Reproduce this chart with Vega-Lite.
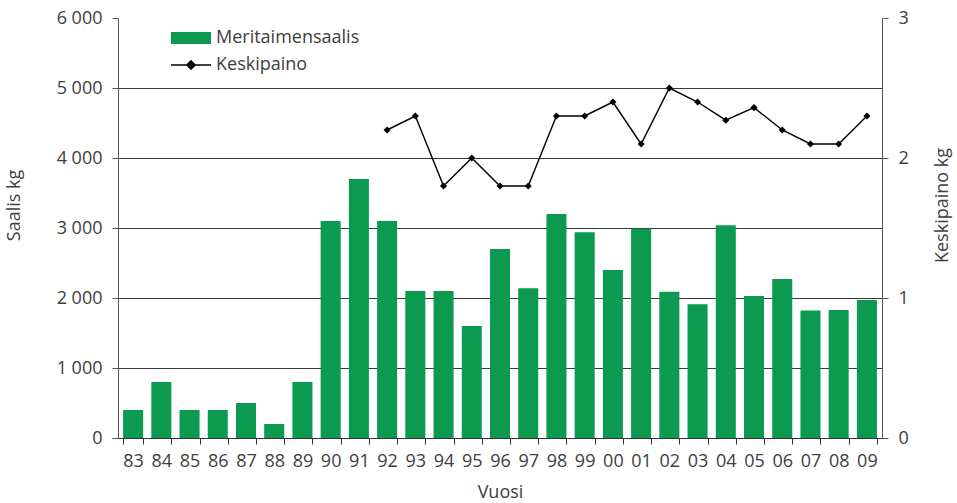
{
  "$schema": "https://vega.github.io/schema/vega-lite/v6.json",
  "width": 764,
  "height": 420,
  "autosize": {"type": "none"},
  "padding": {"left": 118, "top": 18, "right": 75, "bottom": 65},
  "background": "white",
  "config": {
    "font": "Open Sans",
    "view": {"stroke": null},
    "axis": {"labelFont": "Open Sans", "titleFont": "Open Sans", "labelFontSize": 18, "titleFontSize": 18, "labelColor": "#404040", "titleColor": "#404040", "titleFontWeight": "normal"},
    "legend": {"labelFont": "Open Sans", "labelFontSize": 18, "labelColor": "#404040"}
  },
  "data": {
    "values": [
      {"vuosi": "83", "saalis": 400},
      {"vuosi": "84", "saalis": 800},
      {"vuosi": "85", "saalis": 400},
      {"vuosi": "86", "saalis": 400},
      {"vuosi": "87", "saalis": 500},
      {"vuosi": "88", "saalis": 200},
      {"vuosi": "89", "saalis": 800},
      {"vuosi": "90", "saalis": 3100},
      {"vuosi": "91", "saalis": 3700},
      {"vuosi": "92", "saalis": 3100, "keskipaino": 2.2},
      {"vuosi": "93", "saalis": 2100, "keskipaino": 2.3},
      {"vuosi": "94", "saalis": 2100, "keskipaino": 1.8},
      {"vuosi": "95", "saalis": 1600, "keskipaino": 2.0},
      {"vuosi": "96", "saalis": 2700, "keskipaino": 1.8},
      {"vuosi": "97", "saalis": 2140, "keskipaino": 1.8},
      {"vuosi": "98", "saalis": 3200, "keskipaino": 2.3},
      {"vuosi": "99", "saalis": 2940, "keskipaino": 2.3},
      {"vuosi": "00", "saalis": 2400, "keskipaino": 2.4},
      {"vuosi": "01", "saalis": 2990, "keskipaino": 2.1},
      {"vuosi": "02", "saalis": 2090, "keskipaino": 2.5},
      {"vuosi": "03", "saalis": 1910, "keskipaino": 2.4},
      {"vuosi": "04", "saalis": 3040, "keskipaino": 2.27},
      {"vuosi": "05", "saalis": 2030, "keskipaino": 2.36},
      {"vuosi": "06", "saalis": 2270, "keskipaino": 2.2},
      {"vuosi": "07", "saalis": 1820, "keskipaino": 2.1},
      {"vuosi": "08", "saalis": 1830, "keskipaino": 2.1},
      {"vuosi": "09", "saalis": 1970, "keskipaino": 2.3}
    ]
  },
  "encoding": {
    "x": {
      "field": "vuosi",
      "type": "nominal",
      "sort": null,
      "scale": {"paddingInner": 0.29, "paddingOuter": 0.18},
      "axis": {
        "title": "Vuosi",
        "labelAngle": 0,
        "tickBand": "extent",
        "tickSize": 6,
        "tickColor": "#333",
        "domainColor": "#333",
        "domainWidth": 1.2,
        "labelPadding": 8,
        "titleX": 382,
        "titleY": 54,
        "titleBaseline": "middle",
        "grid": false
      }
    }
  },
  "layer": [
    {
      "mark": {"type": "bar", "color": "#0b9a4f"},
      "encoding": {
        "y": {
          "field": "saalis",
          "type": "quantitative",
          "scale": {"domain": [0, 6000], "nice": false},
          "axis": {
            "title": "Saalis  kg",
            "values": [0, 1000, 2000, 3000, 4000, 5000, 6000],
            "labelExpr": "replace(format(datum.value, ','), ',', ' ')",
            "grid": true,
            "gridColor": {"condition": {"test": "datum.value === 6000 || datum.value === 0", "value": "transparent"}, "value": "#3a3a3a"},
            "gridWidth": 1.2,
            "tickSize": 6,
            "tickColor": "#555",
            "domainColor": "#555",
            "labelPadding": 10,
            "titleX": -104,
            "titleY": 187,
            "titleAngle": 270,
            "titleAlign": "center",
            "titleBaseline": "middle"
          }
        },
        "color": {
          "datum": "Meritaimensaalis",
          "type": "nominal",
          "scale": {"domain": ["Meritaimensaalis", "Keskipaino"], "range": ["#0b9a4f", "#000000"]},
          "legend": {
            "title": null,
            "orient": "none",
            "legendX": 64,
            "legendY": 11,
            "padding": 0,
            "symbolSize": 400,
            "labelOffset": 16,
            "rowPadding": 9,
            "encode": {
              "symbols": {
                "update": {
                  "shape": {"signal": "datum.value === 'Keskipaino' ? 'M-2,0H2M0,-0.42L0.42,0L0,0.42L-0.42,0Z' : 'M-2,-0.6H2V0.6H-2Z'"},
                  "fill": {"signal": "datum.value === 'Keskipaino' ? '#000000' : '#0b9a4f'"},
                  "stroke": {"signal": "datum.value === 'Keskipaino' ? '#000000' : '#0b9a4f'"},
                  "strokeWidth": {"signal": "datum.value === 'Keskipaino' ? 1.4 : 0"},
                  "opacity": {"value": 1},
                  "fillOpacity": {"value": 1},
                  "strokeOpacity": {"value": 1}
                }
              }
            }
          }
        }
      }
    },
    {
      "mark": {"type": "line", "color": "#000000", "strokeWidth": 1.4, "point": {"shape": "diamond", "size": 50, "filled": true, "color": "#000000", "opacity": 1}},
      "encoding": {
        "y": {
          "field": "keskipaino",
          "type": "quantitative",
          "scale": {"domain": [0, 3], "nice": false},
          "axis": {
            "title": "Keskipaino kg",
            "orient": "right",
            "values": [0, 1, 2, 3],
            "grid": false,
            "tickSize": 6,
            "tickColor": "#555",
            "domainColor": "#555",
            "labelPadding": 10,
            "titleX": 60,
            "titleY": 187,
            "titleAngle": 270,
            "titleAlign": "center",
            "titleBaseline": "middle"
          }
        },
        "color": {"datum": "Keskipaino", "type": "nominal"}
      }
    }
  ],
  "resolve": {"scale": {"y": "independent"}}
}
